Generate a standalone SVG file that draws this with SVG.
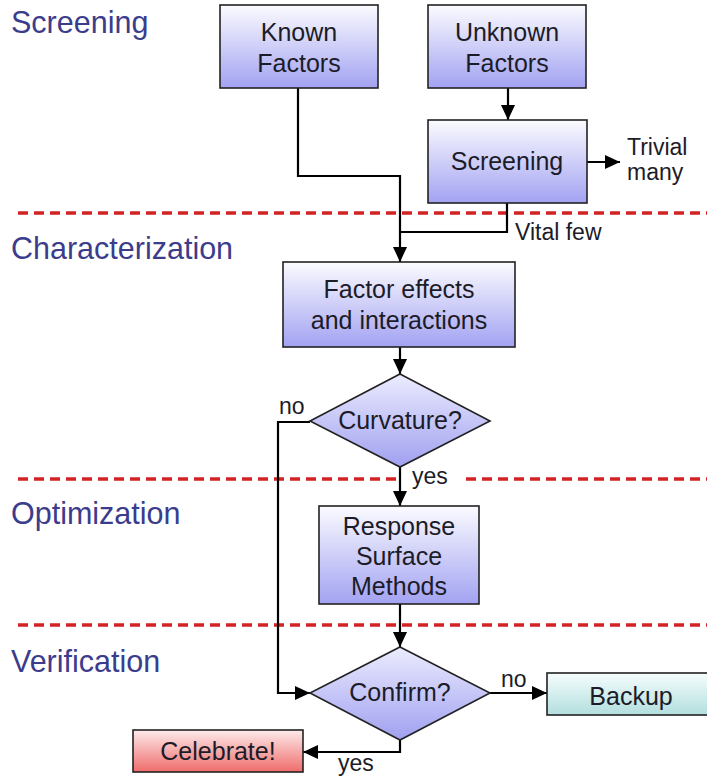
<svg xmlns="http://www.w3.org/2000/svg" width="707" height="777" viewBox="0 0 707 777">
<defs>
<linearGradient id="gBlue" x1="0" y1="0" x2="0" y2="1"><stop offset="0" stop-color="#fbfbff"/><stop offset="1" stop-color="#a2a2f2"/></linearGradient>
<linearGradient id="gDia" x1="0" y1="0" x2="0" y2="1"><stop offset="0" stop-color="#ececff"/><stop offset="1" stop-color="#a0a0f0"/></linearGradient>
<linearGradient id="gTeal" x1="0" y1="0" x2="0" y2="1"><stop offset="0" stop-color="#f6fdfd"/><stop offset="1" stop-color="#b2dede"/></linearGradient>
<linearGradient id="gRed" x1="0" y1="0" x2="0" y2="1"><stop offset="0" stop-color="#fdeaea"/><stop offset="1" stop-color="#f06c6c"/></linearGradient>
<marker id="arr" markerUnits="userSpaceOnUse" markerWidth="16" markerHeight="14" refX="15" refY="7" orient="auto"><path d="M0,0 L15,7 L0,14 z" fill="#000"/></marker>
<style>
.box{stroke:#222;stroke-width:1.6}
.t{font-family:"Liberation Sans",Arial,sans-serif;font-size:25px;fill:#1c1c28;text-anchor:middle}
.s{font-family:"Liberation Sans",Arial,sans-serif;font-size:23px;fill:#1c1c28}
.lab{font-family:"Liberation Sans",Arial,sans-serif;font-size:30.5px;fill:#3c3c8c}
.dash{stroke:#d42222;stroke-width:3.5;stroke-dasharray:10 6;fill:none}
.c{stroke:#000;stroke-width:2.2;fill:none}
</style>
</defs>
<rect width="707" height="777" fill="#fff"/>

<g id="section-labels">
<text class="lab" x="11" y="33">Screening</text>
<text class="lab" x="11" y="259">Characterization</text>
<text class="lab" x="11" y="524">Optimization</text>
<text class="lab" x="11" y="672">Verification</text>
</g>

<g id="dividers">
<line class="dash" x1="18" y1="213" x2="707" y2="213"/>
<line class="dash" x1="18" y1="479" x2="398" y2="479"/>
<line class="dash" x1="466" y1="479" x2="707" y2="479"/>
<line class="dash" x1="18" y1="625" x2="707" y2="625"/>
</g>

<g id="connectors">
<line class="c" x1="508" y1="88" x2="508" y2="120" marker-end="url(#arr)"/>
<polyline class="c" points="298,88 298,176 400,176 400,262" marker-end="url(#arr)"/>
<polyline class="c" points="507,203 507,232 400,232"/>
<line class="c" x1="587" y1="162" x2="620" y2="162" marker-end="url(#arr)"/>
<line class="c" x1="400" y1="347" x2="400" y2="374" marker-end="url(#arr)"/>
<polyline class="c" points="310,422 278,422 278,693 310,693" marker-end="url(#arr)"/>
<line class="c" x1="400" y1="467" x2="400" y2="506" marker-end="url(#arr)"/>
<line class="c" x1="400" y1="604" x2="400" y2="647" marker-end="url(#arr)"/>
<line class="c" x1="490" y1="693" x2="547" y2="693" marker-end="url(#arr)"/>
<polyline class="c" points="400,740 400,752 303,752" marker-end="url(#arr)"/>
<text class="s" x="627" y="155">Trivial</text>
<text class="s" x="627" y="180">many</text>
<text class="s" x="515" y="240">Vital few</text>
<text class="s" x="279" y="414">no</text>
<text class="s" x="412" y="484">yes</text>
<text class="s" x="501" y="687">no</text>
<text class="s" x="338" y="771">yes</text>
</g>

<g id="known-factors">
<rect class="box" x="220" y="5" width="158" height="83" fill="url(#gBlue)"/>
<text class="t" x="299" y="41">Known</text>
<text class="t" x="299" y="72">Factors</text>
</g>

<g id="unknown-factors">
<rect class="box" x="428" y="5" width="158" height="83" fill="url(#gBlue)"/>
<text class="t" x="507" y="41">Unknown</text>
<text class="t" x="507" y="72">Factors</text>
</g>

<g id="screening">
<rect class="box" x="428" y="120" width="159" height="83" fill="url(#gBlue)"/>
<text class="t" x="507" y="170">Screening</text>
</g>

<g id="factor-effects">
<rect class="box" x="283" y="262" width="232" height="85" fill="url(#gBlue)"/>
<text class="t" x="399" y="298">Factor effects</text>
<text class="t" x="399" y="329">and interactions</text>
</g>

<g id="curvature">
<polygon class="box" points="400,374 490,421 400,467 310,421" fill="url(#gDia)"/>
<text class="t" x="400" y="429">Curvature?</text>
</g>

<g id="response-surface">
<rect class="box" x="319" y="506" width="160" height="98" fill="url(#gBlue)"/>
<text class="t" x="399" y="535">Response</text>
<text class="t" x="399" y="565">Surface</text>
<text class="t" x="399" y="595">Methods</text>
</g>

<g id="confirm">
<polygon class="box" points="400,647 490,693 400,740 310,693" fill="url(#gDia)"/>
<text class="t" x="400" y="701">Confirm?</text>
</g>

<g id="backup">
<rect class="box" x="547" y="673" width="170" height="42" fill="url(#gTeal)"/>
<text class="t" x="631" y="705">Backup</text>
</g>

<g id="celebrate">
<rect class="box" x="133" y="730" width="170" height="42" fill="url(#gRed)"/>
<text class="t" x="218" y="760">Celebrate!</text>
</g>
</svg>
